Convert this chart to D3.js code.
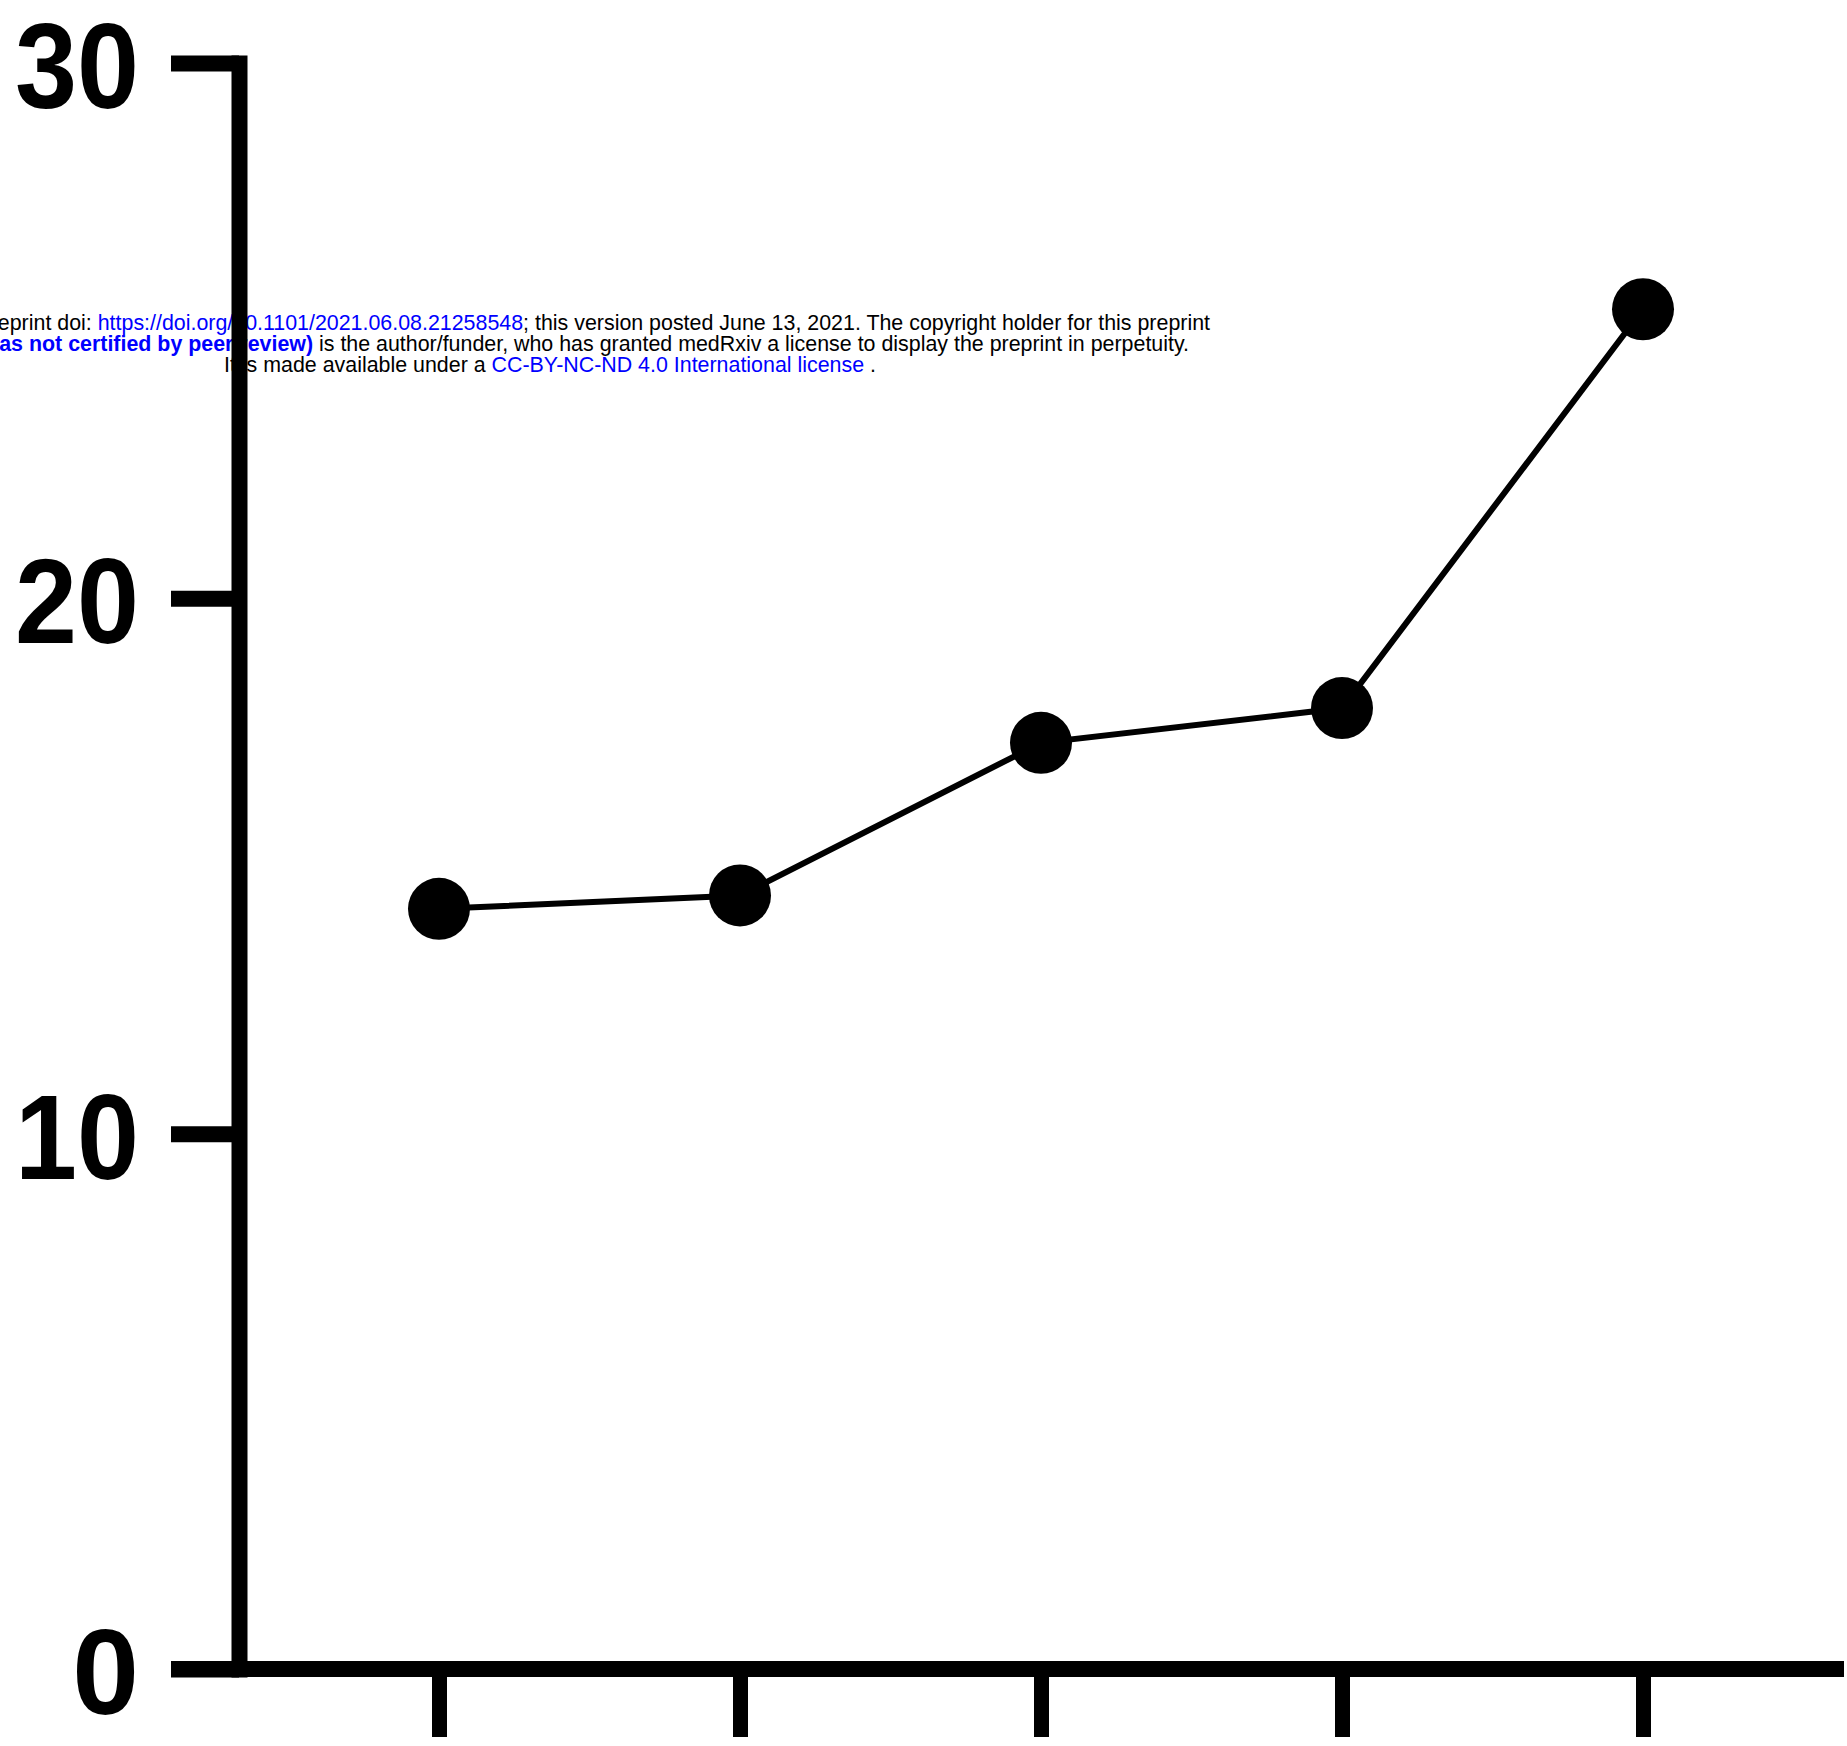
<!DOCTYPE html>
<html>
<head>
<meta charset="utf-8">
<script src="https://cdn.jsdelivr.net/npm/d3@7"></script>
<style>
  html, body { margin: 0; padding: 0; background: #fff; }
  svg { display: block; }
</style>
</head>
<body>
<svg id="chart" width="1847" height="1746"></svg>
<script>
// ---- data ----
const categories = ["1", "2", "3", "4", "5"];
const values = [14.2, 14.45, 17.3, 17.95, 25.4];
const yTicks = [0, 10, 20, 30];
const yTickLabels = ["0", "10", "20", "30"];

// ---- layout ----
const W = 1847, H = 1746;
const yAxisX = 239;
const y0 = 1669, yTop = 63;
const tickLen = 68;
const axisW = 16;

const svg = d3.select("#chart");

const x = d3.scalePoint().domain(categories).range([439, 1643]);
const y = d3.scaleLinear().domain([0, 30]).range([y0, yTop]);

// ---- watermark (drawn beneath the axes) ----
const wm = svg.append("g")
  .attr("font-family", "'Liberation Sans', Arial, sans-serif")
  .attr("font-size", 21.4);
const blue = "#0000ff";

const l1 = wm.append("text").attr("x", 1210).attr("y", 330).attr("text-anchor", "end");
l1.append("tspan").attr("fill", "#000").text("eprint doi: ");
l1.append("tspan").attr("fill", blue).text("https://doi.org/10.1101/2021.06.08.21258548");
l1.append("tspan").attr("fill", "#000").text("; this version posted June 13, 2021. The copyright holder for this preprint");

const l2 = wm.append("text").attr("x", 1189).attr("y", 351).attr("text-anchor", "end");
l2.append("tspan").attr("fill", blue).attr("font-weight", "bold").text("as not certified by peer review)");
l2.append("tspan").attr("fill", "#000").text(" is the author/funder, who has granted medRxiv a license to display the preprint in perpetuity.");

const l3 = wm.append("text").attr("x", 224).attr("y", 372).attr("text-anchor", "start");
l3.append("tspan").attr("fill", "#000").text("It is made available under a ");
l3.append("tspan").attr("fill", blue).text("CC-BY-NC-ND 4.0 International license");
l3.append("tspan").attr("fill", "#000").text(" .");

// ---- y axis ----
const yAxis = d3.axisLeft(y)
  .tickValues(yTicks)
  .tickFormat((d, i) => yTickLabels[i])
  .tickSize(tickLen)
  .tickSizeOuter(0)
  .tickPadding(32);

const gy = svg.append("g").attr("transform", `translate(${yAxisX},0)`).call(yAxis);
gy.select(".domain")
  .attr("stroke", "#000").attr("stroke-width", axisW).attr("stroke-linecap", "square");
gy.selectAll(".tick line").attr("stroke", "#000").attr("stroke-width", axisW);
gy.selectAll(".tick text")
  .attr("font-family", "'Liberation Sans', Arial, sans-serif")
  .attr("font-weight", "bold")
  .attr("font-size", 120)
  .attr("fill", "#000")
  .attr("dy", "0.37em")
  .attr("textLength", d => d === 0 ? null : 124)
  .attr("lengthAdjust", "spacingAndGlyphs");

// ---- x axis ----
const xAxis = d3.axisBottom(x).tickSize(tickLen).tickSizeOuter(0).tickFormat("");
const gx = svg.append("g").attr("transform", `translate(0,${y0})`).call(xAxis);
gx.select(".domain").remove();
gx.selectAll(".tick line").attr("stroke", "#000").attr("stroke-width", 15);
gx.append("line")
  .attr("x1", yAxisX - tickLen).attr("x2", 1844)
  .attr("y1", 0).attr("y2", 0)
  .attr("stroke", "#000").attr("stroke-width", axisW);

// ---- series ----
const pts = categories.map((c, i) => ({ c, v: values[i] }));
svg.append("path")
  .datum(pts)
  .attr("fill", "none")
  .attr("stroke", "#000")
  .attr("stroke-width", 6)
  .attr("d", d3.line().x(d => x(d.c)).y(d => y(d.v)));

svg.append("g").selectAll("circle")
  .data(pts)
  .join("circle")
  .attr("cx", d => x(d.c))
  .attr("cy", d => y(d.v))
  .attr("r", 31)
  .attr("fill", "#000");
</script>
</body>
</html>
